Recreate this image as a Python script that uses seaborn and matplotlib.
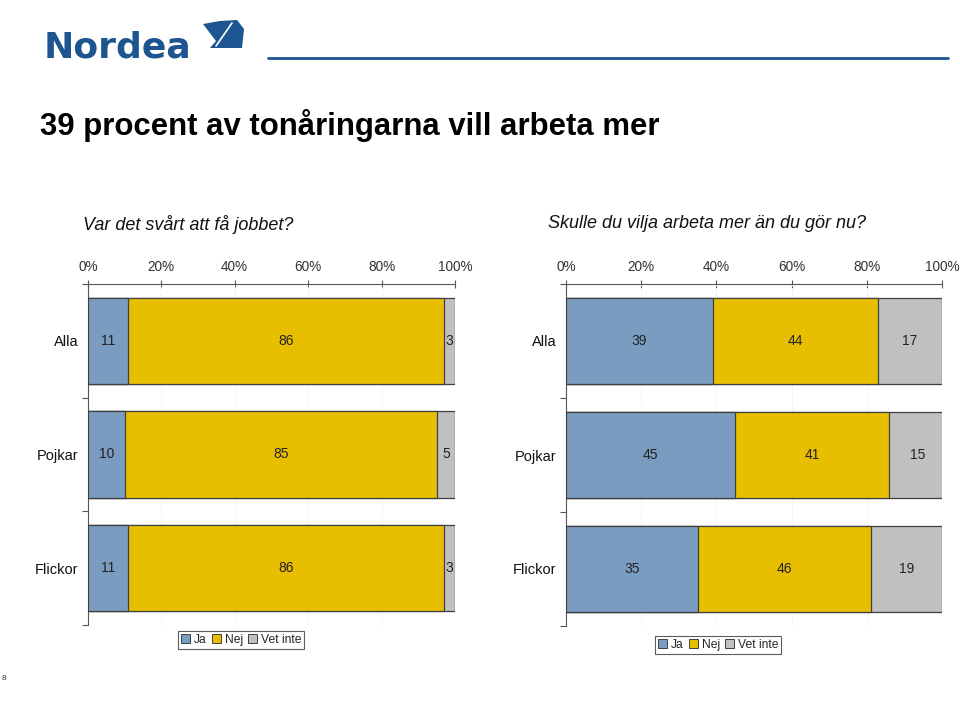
import numpy as np
import pandas as pd
import matplotlib
matplotlib.use("Agg")
import matplotlib.pyplot as plt
from matplotlib.patches import Polygon, Rectangle
from matplotlib.lines import Line2D
import seaborn as sns

sns.set_style("white")
plt.rcParams['font.family'] = ['Liberation Sans', 'DejaVu Sans']

categories = ["Alla", "Pojkar", "Flickor"]
series_names = ["Ja", "Nej", "Vet inte"]
left_ja = [11, 10, 11]
left_nej = [86, 85, 86]
left_vet = [3, 5, 3]
right_ja = [39, 45, 35]
right_nej = [44, 41, 46]
right_vet = [17, 15, 19]
tick_labels = ["0%", "20%", "40%", "60%", "80%", "100%"]

title = "39 procent av tonåringarna vill arbeta mer"
sub_left = "Var det svårt att få jobbet?"
sub_right = "Skulle du vilja arbeta mer än du gör nu?"

colors = {"Ja": "#7a9cc1", "Nej": "#e8bf00", "Vet inte": "#c0c0c0"}
edge = "#404040"
brand = "#1c5590"

W, H = 960, 703
fig = plt.figure(figsize=(9.6, 7.03), dpi=100)


def px_axes(x0, y0, x1, y1):
    return fig.add_axes([x0 / W, 1 - y1 / H, (x1 - x0) / W, (y1 - y0) / H])


def P(x, y):
    return (x / W, 1 - y / H)


def draw_panel(ax, ja, nej, vet, legend_xy):
    df = pd.DataFrame({"cat": categories, "Ja": ja, "Nej": nej, "Vet inte": vet})
    df["c1"] = df["Ja"]
    df["c2"] = df["Ja"] + df["Nej"]
    df["c3"] = df["Ja"] + df["Nej"] + df["Vet inte"]
    for col, name in [("c3", "Vet inte"), ("c2", "Nej"), ("c1", "Ja")]:
        sns.barplot(data=df, x=col, y="cat", orient="h", color=colors[name],
                    saturation=1, width=0.76, edgecolor=edge, linewidth=0.9,
                    ax=ax, zorder=3)
    for i, row in df.iterrows():
        starts = [0, row["c1"], row["c2"]]
        vals = [row["Ja"], row["Nej"], row["Vet inte"]]
        for s, v in zip(starts, vals):
            ax.text(s + v / 2, i, f"{v}", ha="center", va="center",
                    fontsize=10, color="#222222", zorder=5)
    ax.set_xlim(0, 100)
    ax.set_ylim(2.5, -0.5)
    ax.set_xlabel("")
    ax.set_ylabel("")
    ax.xaxis.tick_top()
    ax.set_xticks(np.arange(0, 101, 20))
    ax.set_xticklabels(tick_labels, fontsize=9.8, color="#333333")
    ax.tick_params(axis="x", direction="inout", length=6, width=0.8,
                   color="#555555", pad=4.5, top=True, bottom=False)
    ax.set_yticks(range(len(categories)))
    ax.set_yticklabels(categories, fontsize=10.5, color="#111111")
    ax.tick_params(axis="y", which="major", length=0, pad=7)
    ax.set_yticks([-0.5, 0.5, 1.5, 2.5], minor=True)
    ax.tick_params(axis="y", which="minor", length=4, width=0.8,
                   color="#555555", direction="out", left=True)
    for sp in ["right", "bottom"]:
        ax.spines[sp].set_visible(False)
    for sp in ["left", "top"]:
        ax.spines[sp].set_color("#555555")
        ax.spines[sp].set_linewidth(0.8)
    ax.set_facecolor("none")
    for x in np.arange(20, 101, 20):
        ax.axvline(x, color="#e8e8e8", lw=0.6, ls=(0, (2, 2)), zorder=1)
    handles = [Rectangle((0, 0), 1, 1, facecolor=colors[n], edgecolor=edge, lw=0.7)
               for n in series_names]
    leg = fig.legend(handles, series_names, loc="upper left",
                     bbox_to_anchor=P(*legend_xy),
                     ncol=3, fontsize=8.7, frameon=True, fancybox=False,
                     handlelength=0.75, handleheight=0.75, handletextpad=0.3,
                     columnspacing=0.45, borderpad=0.25, borderaxespad=0)
    leg.get_frame().set_edgecolor("#333333")
    leg.get_frame().set_linewidth(0.8)


ax1 = px_axes(88, 284, 455, 625)
draw_panel(ax1, left_ja, left_nej, left_vet, (178, 631))
ax2 = px_axes(566, 284, 942, 626)
draw_panel(ax2, right_ja, right_nej, right_vet, (655, 636))

# Header: logo and rule
fig.text(*P(44, 58), "Nordea", fontsize=26, fontweight="bold",
         family=["DejaVu Sans"], color=brand, va="baseline", ha="left")
sail = Polygon([P(203, 24), P(220, 21), P(237, 20), P(244, 29), P(242, 48),
                P(210, 48), P(216, 41)],
               closed=True, transform=fig.transFigure, facecolor=brand,
               edgecolor="none")
fig.patches.append(sail)
fig.add_artist(Line2D([P(232, 23)[0], P(216, 46)[0]], [P(232, 23)[1], P(216, 46)[1]],
                      transform=fig.transFigure, color="white", lw=1.2))
fig.add_artist(Line2D([268 / W, 948 / W], [1 - 58 / H, 1 - 58 / H],
                      transform=fig.transFigure, color=brand, lw=2))

fig.text(*P(40, 125), title, fontsize=22.4, fontweight="bold",
         color="black", va="center", ha="left")
fig.text(*P(83, 224), sub_left, fontsize=13, fontstyle="italic",
         color="#111111", va="center", ha="left")
fig.text(*P(548, 224), sub_right, fontsize=13, fontstyle="italic",
         color="#111111", va="center", ha="left")
fig.text(*P(2, 678), "8", fontsize=6, color="#333333", va="center", ha="left")

fig.savefig("out.png", dpi=100)
